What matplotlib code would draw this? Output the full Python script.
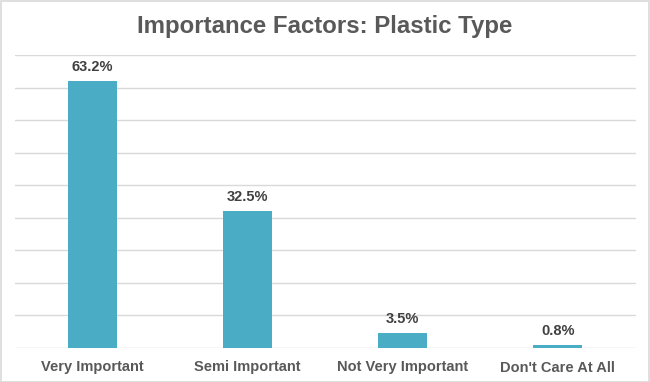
import matplotlib
matplotlib.use("Agg")
import matplotlib.pyplot as plt
from matplotlib.patches import Rectangle
import numpy as np

categories = ["Very Important", "Semi Important", "Not Very Important", "Don't Care At All"]
values = [63.2, 32.5, 3.5, 0.8]
labels = ["63.2%", "32.5%", "3.5%", "0.8%"]
title = "Importance Factors: Plastic Type"

plt.rcParams['font.family'] = ['Liberation Sans', 'DejaVu Sans']

W, H = 650, 382
fig = plt.figure(figsize=(6.5, 3.82), dpi=100)
ax = fig.add_axes([15 / W, 1 - 348 / H, (635.5 - 15) / W, (348 - 55) / H])

ymax = 69.4
x = np.arange(len(categories))
ax.bar(x, values, width=0.316, color='#4BACC6', zorder=3)
ax.set_xlim(-0.5, len(categories) - 0.5)
ax.set_ylim(0, ymax)
for yv in np.linspace(0, ymax, 10):
    ax.axhline(yv, color='#d9d9d9', lw=1.0, zorder=1)
for s in ax.spines.values():
    s.set_visible(False)
ax.set_yticks([])
ax.set_xticks(x)
ax.set_xticklabels(categories, fontsize=10.5, color='#595959', fontweight='bold')
ax.tick_params(axis='x', length=0, pad=9)
for xi, v, lab in zip(x, values, labels):
    ax.annotate(lab, (xi, v), xytext=(0, 5), textcoords='offset points',
                ha='center', va='bottom', fontsize=10.5, fontweight='bold', color='#404040')

fig.text(0.5, 1 - 26 / H, title, ha='center', va='center', fontsize=17.3,
         fontweight='bold', color='#595959')
fig.add_artist(Rectangle((0.5 / W, 0.5 / H), 1 - 1.5 / W, 1 - 1.5 / H, transform=fig.transFigure,
                         fill=False, edgecolor='#d9d9d9', lw=1.2))
fig.savefig("out.png", dpi=100, facecolor='white')
